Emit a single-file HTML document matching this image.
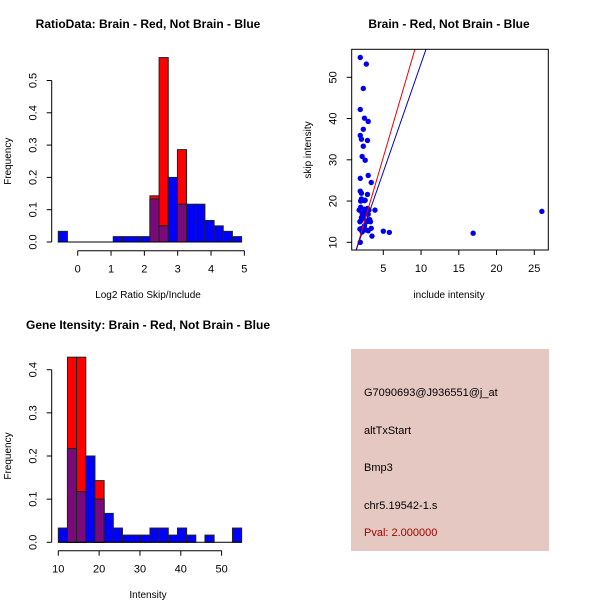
<!DOCTYPE html>
<html><head><meta charset="utf-8"><style>
body{margin:0;background:#fff}
svg{display:block;font-family:"Liberation Sans",Arial,sans-serif}
</style></head><body>
<svg id="c" width="600" height="600" viewBox="0 0 600 600">
<rect width="600" height="600" fill="#fff"/>
<g id="p1"></g>
<g id="p2"></g>
<g id="p3"></g>
<g>
<rect x="351" y="349" width="198" height="202" fill="#e6c8c2"/>
<text x="364" y="396" font-size="11" fill="#000">G7090693@J936551@j_at</text>
<text x="364" y="434" font-size="11" fill="#000">altTxStart</text>
<text x="364" y="471" font-size="11" fill="#000">Bmp3</text>
<text x="364" y="509" font-size="11" fill="#000">chr5.19542-1.s</text>
<text x="364" y="536" font-size="11" fill="#a00000">Pval: 2.000000</text>
</g>
</svg>
<script>
// Ratio histogram data
const ratioBreakStart = -0.583;
const ratioBinWidth = 0.275;
const ratioBlue = [0.033,0,0,0,0,0,0.0167,0.0167,0.0167,0.0167,0.133,0.05,0.2,0.117,0.117,0.117,0.0667,0.05,0.033,0.0167];
const ratioRed = [0,0,0,0,0,0,0,0,0,0,0.143,0.571,0,0.286,0,0,0,0,0,0];
const ratioXTicks = [0,1,2,3,4,5];
const ratioYTicks = [0,0.1,0.2,0.3,0.4,0.5];
// Intensity histogram data
const intBreakStart = 10;
const intBinWidth = 2.245;
const intBlue = [0.033,0.217,0.117,0.2,0.1,0.067,0.033,0.0167,0.0167,0.0167,0.033,0.033,0.0167,0.033,0.0167,0,0.0167,0,0,0.033];
const intRed = [0,0.429,0.429,0,0.143,0,0,0,0,0,0,0,0,0,0,0,0,0,0,0];
const intXTicks = [10,20,30,40,50];
const intYTicks = [0,0.1,0.2,0.3,0.4];
// Scatter data
const scatterX = [1.95,2.75,2.35,1.95,2.5,3.0,2.35,1.95,2.1,2.9,2.35,2.2,2.6,3.0,3.4,1.95,1.95,2.1,2.9,2.0,2.3,2.5,3.9,5.0,5.8,16.9,26.0,1.8,2.0,2.2,2.4,2.0,1.9,2.1,2.6,2.8,3.0,3.2,3.3,2.5,2.3,2.0,1.9,2.7,3.0,3.4,3.5,1.95,2.2,2.5,2.9,2.6,2.1,3.1,2.4,2.8];
const scatterY = [54.8,53.2,47.3,42.2,40.1,39.3,37.4,35.9,35.0,34.7,33.3,30.8,29.9,26.2,24.5,25.5,22.4,21.9,21.6,20.0,20.2,20.1,17.8,12.7,12.4,12.2,17.5,17.8,18.5,17.0,16.5,15.2,15.0,16.0,17.5,17.0,16.8,15.5,15.0,14.0,13.5,13.3,13.2,13.0,12.8,13.4,11.5,10.0,12.5,18.0,18.2,20.2,20.5,17.8,15.8,15.0];
const redLine = [-0.63, 6.25];   // intercept, slope
const blueLine = [0.74, 5.26];
const scatterXTicks = [5,10,15,20,25];
const scatterYTicks = [10,20,30,40,50];

const NS='http://www.w3.org/2000/svg';
function mk(parent,tag,attrs){const e=document.createElementNS(NS,tag);for(const k in attrs)e.setAttribute(k,attrs[k]);parent.appendChild(e);return e;}

function hist(g,o){
  const sx=v=>o.x0+(v-o.d0)*o.kx, sy=v=>o.y0-v*o.ky;
  const n=o.blue.length;
  for(let i=0;i<n;i++){
    const a=o.bs+i*o.bw,b=a+o.bw,xa=sx(a),xb=sx(b);
    const bl=o.blue[i],rd=o.red[i],mn=Math.min(bl,rd);
    if(rd>0){const r=mk(g,'rect',{x:xa,y:sy(rd),width:xb-xa,height:sy(0)-sy(rd),fill:'#ff0000',stroke:'#222','stroke-width':1});
      
      }
    if(bl>0){const r=mk(g,'rect',{x:xa,y:sy(bl),width:xb-xa,height:sy(0)-sy(bl),fill:'#0000ff',stroke:'#222','stroke-width':1});
      
      }
    if(mn>0){const r=mk(g,'rect',{x:xa,y:sy(mn),width:xb-xa,height:sy(0)-sy(mn),fill:'#7a0a7a',stroke:'#222','stroke-width':1});
      
      }
  }
  mk(g,'line',{x1:sx(o.bs),x2:sx(o.bs+n*o.bw),y1:sy(0),y2:sy(0),stroke:'#000'});
  const yt=o.yticks;
  mk(g,'line',{x1:o.yAxX,x2:o.yAxX,y1:sy(yt[0]),y2:sy(yt[yt.length-1]),stroke:'#000'});
  yt.forEach(t=>{mk(g,'line',{x1:o.yAxX-5,x2:o.yAxX,y1:sy(t),y2:sy(t),stroke:'#000'});
    const lx=o.yAxX-15;
    const tx=mk(g,'text',{x:lx,y:sy(t),'font-size':11,'text-anchor':'middle',transform:`rotate(-90 ${lx} ${sy(t)})`});tx.textContent=t.toFixed(1);
    
    });
  const xt=o.xticks;
  mk(g,'line',{x1:sx(xt[0]),x2:sx(xt[xt.length-1]),y1:o.xAxY,y2:o.xAxY,stroke:'#000'});
  xt.forEach(t=>{mk(g,'line',{x1:sx(t),x2:sx(t),y1:o.xAxY,y2:o.xAxY+5,stroke:'#000'});
    const tx=mk(g,'text',{x:sx(t),y:o.xAxY+22,'font-size':11,'text-anchor':'middle'});tx.textContent=t;
    
    });
  let t=mk(g,'text',{x:148,y:o.titleY,'font-size':12,'font-weight':'bold','text-anchor':'middle'});t.textContent=o.title;
  
  
  t=mk(g,'text',{x:148,y:o.xlabY,'font-size':10,'text-anchor':'middle'});t.textContent=o.xlab;
  
  
  const cy=(sy(0)+sy(yt[yt.length-1]))/2;
  t=mk(g,'text',{x:11,y:cy,'font-size':10,'text-anchor':'middle',transform:`rotate(-90 11 ${cy})`});t.textContent='Frequency';
  
  
}

hist(document.getElementById('p1'),{x0:77.7,d0:0,kx:33.33,y0:242,ky:323,bs:ratioBreakStart,bw:ratioBinWidth,blue:ratioBlue,red:ratioRed,
  yticks:ratioYTicks,xticks:ratioXTicks,yAxX:51.7,xAxY:250.7,title:'RatioData: Brain - Red, Not Brain - Blue',titleY:28,xlab:'Log2 Ratio Skip/Include',xlabY:298});
hist(document.getElementById('p3'),{x0:58.3,d0:10,kx:4.083,y0:542.3,ky:431.5,bs:intBreakStart,bw:intBinWidth,blue:intBlue,red:intRed,
  yticks:intYTicks,xticks:intXTicks,yAxX:51.7,xAxY:550.7,title:'Gene Itensity: Brain - Red, Not Brain - Blue',titleY:329,xlab:'Intensity',xlabY:598});

(function(){
  const g=document.getElementById('p2');
  const L=351.7,R=548.3,T=49.3,B=250;
  const sx=v=>383.3+(v-5)*7.55, sy=v=>242.3-(v-10)*4.125;
  const cp=mk(g,'clipPath',{id:'clp'});mk(cp,'rect',{x:L,y:T,width:R-L,height:B-T});
  scatterX.forEach((x,i)=>{const c=mk(g,'circle',{cx:sx(x),cy:sy(scatterY[i]),r:2.7,fill:'#0000ee'});
    
    });
  const xd0=0.81,xd1=26.85;
  [[redLine,'#ee0000','red-fit-line'],[blueLine,'#0000cc','blue-fit-line']].forEach(([l,col,nm])=>{
    const ln=mk(g,'line',{x1:sx(xd0),y1:sy(l[0]+l[1]*xd0),x2:sx(xd1),y2:sy(l[0]+l[1]*xd1),stroke:col,'stroke-width':1,'clip-path':'url(#clp)'});
    
    });
  mk(g,'rect',{x:L,y:T,width:R-L,height:B-T,fill:'none',stroke:'#000'});
  scatterXTicks.forEach(t=>{mk(g,'line',{x1:sx(t),x2:sx(t),y1:B,y2:B+5,stroke:'#000'});
    const tx=mk(g,'text',{x:sx(t),y:B+22,'font-size':11,'text-anchor':'middle'});tx.textContent=t;
    
    });
  scatterYTicks.forEach(t=>{mk(g,'line',{x1:L-5,x2:L,y1:sy(t),y2:sy(t),stroke:'#000'});
    const lx=L-15;
    const tx=mk(g,'text',{x:lx,y:sy(t),'font-size':11,'text-anchor':'middle',transform:`rotate(-90 ${lx} ${sy(t)})`});tx.textContent=t;
    
    });
  let t=mk(g,'text',{x:449,y:28,'font-size':12,'font-weight':'bold','text-anchor':'middle'});t.textContent='Brain - Red, Not Brain - Blue';
  
  
  t=mk(g,'text',{x:449,y:298,'font-size':10,'text-anchor':'middle'});t.textContent='include intensity';
  
  
  t=mk(g,'text',{x:311,y:150,'font-size':10,'text-anchor':'middle',transform:'rotate(-90 311 150)'});t.textContent='skip intensity';
  
  
})();
</script>
</body></html>
